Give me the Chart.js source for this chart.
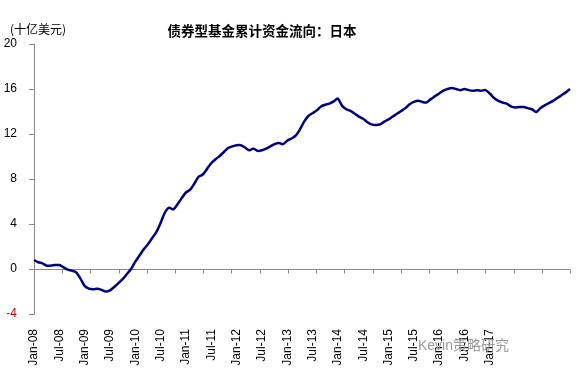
<!DOCTYPE html>
<html>
<head>
<meta charset="utf-8">
<script src="https://cdn.jsdelivr.net/npm/chart.js@4"></script>
<style>
  body { margin: 0; background: #fff; }
  #wrap { position: relative; width: 578px; height: 389px; }
  #unit { position: absolute; left: 10px; top: 20px; font: 12px "Noto Sans CJK SC", sans-serif; color: #000; }
  #title { position: absolute; left: 162px; top: 20px; width: 200px; text-align: center; font: bold 13.5px "Noto Sans CJK SC", sans-serif; color: #000; }
  #mark { position: absolute; left: 418px; top: 334px; font: 14px "Liberation Sans", "Noto Sans CJK SC", sans-serif; color: #9a9a9a; }
</style>
</head>
<body>
<div id="wrap">
  <canvas id="myChart" width="578" height="389"></canvas>
  <div id="unit">(十亿美元)</div>
  <div id="title">债券型基金累计资金流向：日本</div>
  <div id="mark">Kevin策略研究</div>
</div>
<script>
// monthly, Jan-08 .. Aug-18
const monthNames = ['Jan','Feb','Mar','Apr','May','Jun','Jul','Aug','Sep','Oct','Nov','Dec'];
const startYear = 8;
const pointCount = 128;

const tickLabels = ['Jan-08','Jul-08','Jan-09','Jul-09','Jan-10','Jul-10','Jan-11','Jul-11','Jan-12','Jul-12',
    'Jan-13','Jul-13','Jan-14','Jul-14','Jan-15','Jul-15','Jan-16','Jul-16','Jan-17'];

const flows = [
    0.8, 0.6, 0.5, 0.3, 0.3, 0.35, 0.35, 0.15, -0.05, -0.15, -0.3, -0.85,
    -1.5, -1.75, -1.8, -1.75, -1.85, -2.0, -1.9, -1.6, -1.25, -0.9, -0.45, 0.0,
    0.65, 1.2, 1.75, 2.2, 2.75, 3.3, 4.1, 5.0, 5.45, 5.3, 5.75, 6.3,
    6.8, 7.05, 7.6, 8.2, 8.4, 8.9, 9.4, 9.75, 10.05, 10.4, 10.75, 10.9,
    11.0, 11.0, 10.8, 10.55, 10.7, 10.5, 10.55, 10.7, 10.9, 11.1, 11.2, 11.1,
    11.4, 11.6, 11.85, 12.4, 13.1, 13.6, 13.85, 14.1, 14.45, 14.6, 14.7, 14.9,
    15.15, 14.5, 14.2, 14.05, 13.8, 13.55, 13.35, 13.05, 12.85, 12.8, 12.85, 13.1,
    13.3, 13.55, 13.8, 14.05, 14.3, 14.65, 14.85, 14.95, 14.85, 14.8, 15.1, 15.35,
    15.6, 15.85, 16.0, 16.1, 16.0, 15.9, 16.0, 15.9, 15.85, 15.9, 15.85, 15.9,
    15.6, 15.2, 14.95, 14.8, 14.7, 14.45, 14.35, 14.4, 14.4, 14.3, 14.2, 13.95,
    14.3, 14.55, 14.75, 14.95, 15.2, 15.45, 15.7, 16.0
];

const categories = [];
for (let i = 0; i < pointCount; i++) {
    const yy = startYear + Math.floor(i / 12);
    categories.push(monthNames[i % 12] + '-' + String(yy).padStart(2, '0'));
}

// zero line with its own tick marks (axis crosses at 0)
const zeroAxis = {
    id: 'zeroAxis',
    beforeDatasetsDraw(chart) {
        const ctx = chart.ctx;
        const area = chart.chartArea;
        const y0 = Math.round(chart.scales.y.getPixelForValue(0)) + 0.5;
        ctx.save();
        ctx.strokeStyle = '#888';
        ctx.lineWidth = 1;
        ctx.beginPath();
        ctx.moveTo(area.left, y0);
        ctx.lineTo(area.right, y0);
        const n = 19;
        for (let k = 0; k <= n; k++) {
            const x = Math.round(area.left + k * (area.right - area.left) / n) + 0.5;
            ctx.moveTo(x, y0);
            ctx.lineTo(x, y0 + 4);
        }
        ctx.stroke();
        ctx.restore();
    }
};

const ctx = document.getElementById('myChart').getContext('2d');
new Chart(ctx, {
    type: 'line',
    data: {
        labels: categories,
        datasets: [{
            data: flows,
            borderColor: '#000080',
            borderWidth: 2.5,
            pointRadius: 0,
            tension: 0.3,
            fill: false
        }]
    },
    options: {
        responsive: false,
        animation: false,
        layout: { padding: { top: 44, right: 8, left: 0, bottom: 0 } },
        plugins: { legend: { display: false }, tooltip: { enabled: false } },
        scales: {
            x: {
                type: 'category',
                offset: false,
                grid: { display: false },
                border: { display: false },
                afterFit: s => { s.height = 75; s.paddingRight = 0; s.paddingLeft = 0; },
                ticks: {
                    autoSkip: false,
                    minRotation: 90,
                    maxRotation: 90,
                    padding: 7,
                    color: '#000',
                    font: { family: 'Liberation Sans', size: 12 },
                    callback: function(value) {
                        const lab = this.getLabelForValue(value);
                        return tickLabels.includes(lab) ? lab : '';
                    }
                }
            },
            y: {
                min: -4,
                max: 20,
                afterFit: s => { s.width = 34; },
                grid: { drawOnChartArea: false, drawTicks: true, tickLength: 5, color: '#888' },
                border: { color: '#888' },
                ticks: {
                    stepSize: 4,
                    padding: 12,
                    font: { family: 'Liberation Sans', size: 12 },
                    color: c => (c.tick && c.tick.value < 0 ? '#cc0000' : '#000')
                }
            }
        }
    },
    plugins: [zeroAxis]
});
</script>
</body>
</html>
